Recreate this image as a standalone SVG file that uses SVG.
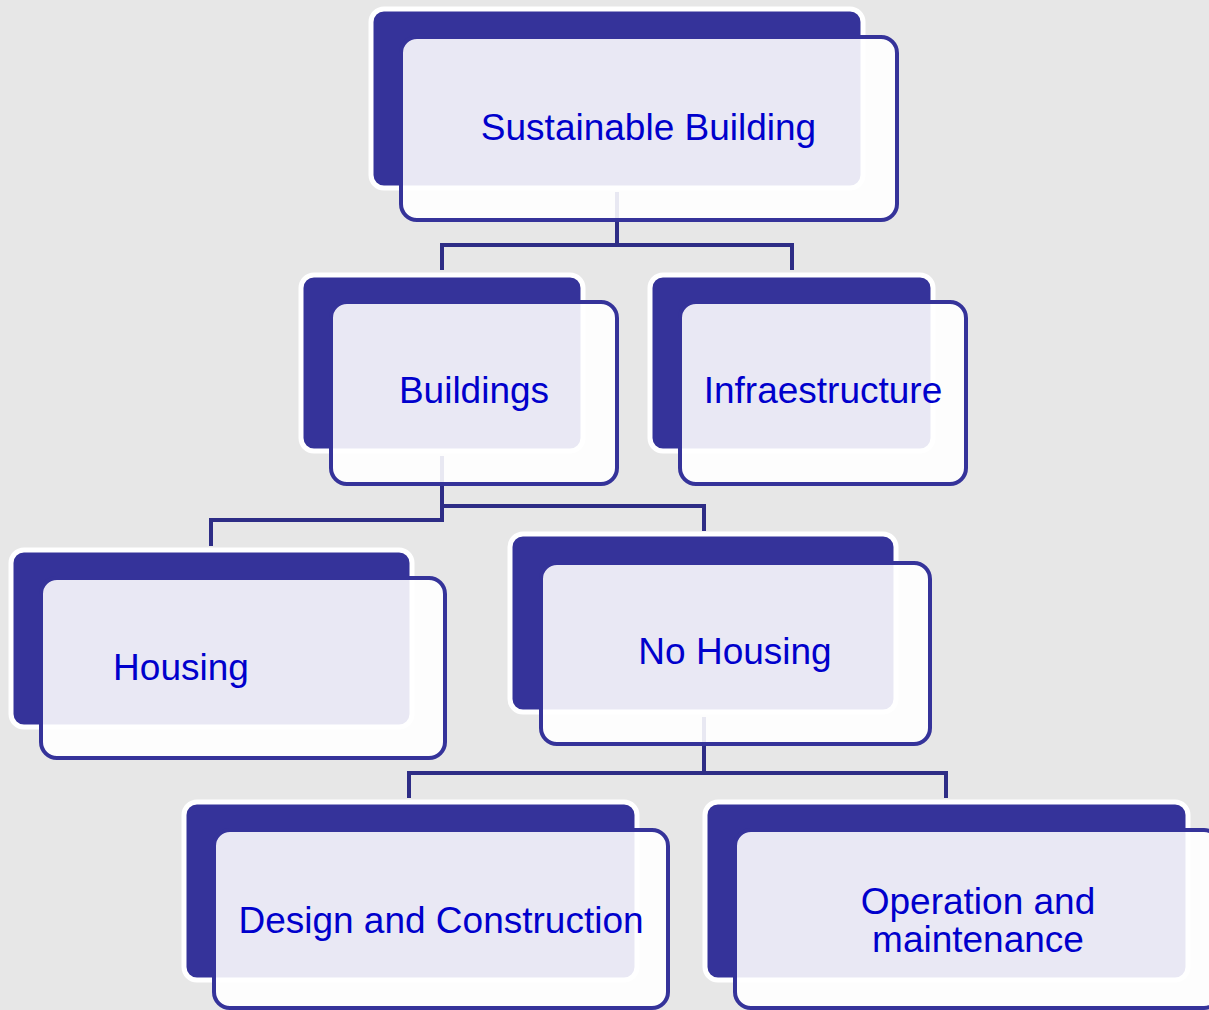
<svg xmlns="http://www.w3.org/2000/svg" width="1209" height="1010" viewBox="0 0 1209 1010">
<style>
.back{fill:#35339A;stroke:#FFFFFF;stroke-width:5}
.front{fill:#FFFFFF;fill-opacity:0.89;stroke:#35339A;stroke-width:4}
.conn{fill:none;stroke:#2E2D86;stroke-width:4;stroke-linejoin:miter}
.lbl{font-family:"Liberation Sans",Arial,sans-serif;font-size:37px;fill:#0000CC;text-anchor:middle}
</style>
<rect width="1209" height="1010" fill="#E7E7E7"/>
<g id="connectors">
<path class="conn" d="M617,192 V245 M442,270 V245 H792 V270"/>
<path class="conn" d="M442,456 V520 H211 V546 M442,506 H704 V531"/>
<path class="conn" d="M704,717 V773 M409,798 V773 H946 V798"/>
</g>
<g id="n-sustainable">
<rect class="back" x="371" y="9" width="492" height="179" rx="13"/>
<rect class="front" x="401" y="37" width="496" height="183" rx="16"/>
<text class="lbl" x="648.5" y="140">Sustainable Building</text>
</g>
<g id="n-buildings">
<rect class="back" x="301" y="275" width="282" height="176" rx="13"/>
<rect class="front" x="331" y="302" width="286" height="182" rx="16"/>
<text class="lbl" x="474" y="403">Buildings</text>
</g>
<g id="n-infra">
<rect class="back" x="650" y="275" width="283" height="176" rx="13"/>
<rect class="front" x="680" y="302" width="286" height="182" rx="16"/>
<text class="lbl" x="823" y="403">Infraestructure</text>
</g>
<g id="n-housing">
<rect class="back" x="11" y="550" width="401" height="177" rx="13"/>
<rect class="front" x="41" y="578" width="404" height="180" rx="16"/>
<text class="lbl" x="181" y="680">Housing</text>
</g>
<g id="n-nohousing">
<rect class="back" x="510" y="534" width="386" height="178" rx="13"/>
<rect class="front" x="541" y="563" width="389" height="181" rx="16"/>
<text class="lbl" x="735" y="664">No Housing</text>
</g>
<g id="n-design">
<rect class="back" x="184" y="802" width="453" height="178" rx="13"/>
<rect class="front" x="214" y="830" width="454" height="178" rx="16"/>
<text class="lbl" x="441" y="933">Design and Construction</text>
</g>
<g id="n-operation">
<rect class="back" x="705" y="802" width="483" height="178" rx="13"/>
<rect class="front" x="735" y="830" width="485" height="178" rx="16"/>
<text class="lbl" x="978" y="914">Operation and</text>
<text class="lbl" x="978" y="952">maintenance</text>
</g>
</svg>
